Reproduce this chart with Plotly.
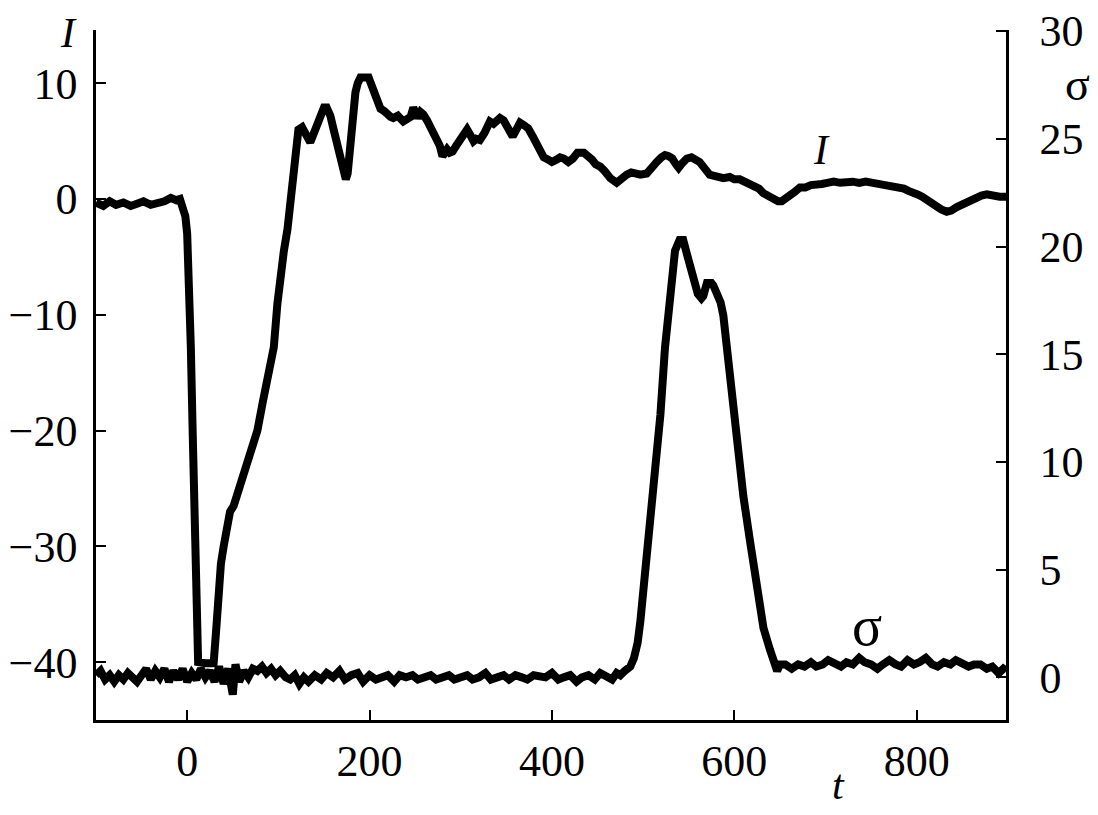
import plotly.graph_objects as go

# Current I(t)
i_t = [-100, -92, -85, -78, -70, -62, -55, -48, -40, -32, -25, -18, -12, -8, -5, -2, 0, 2, 4, 6, 8, 10, 12, 20, 29,
       32, 34, 37, 40, 44, 47, 51, 55, 60, 66, 72, 77, 83, 88, 92, 95, 99, 102, 106, 110, 113, 117, 119, 122, 126,
       130, 135, 139, 144, 150, 153, 157, 160, 164, 168, 171, 174, 176, 179, 182, 184.5, 187, 190, 199, 203, 208,
       212, 216, 219, 223, 226, 231, 237, 241, 245, 248, 250, 253, 256, 259, 263, 267, 270, 274, 277, 280, 283, 285,
       288, 291, 295, 300, 304, 307, 310, 314, 317, 321, 326, 332, 336, 340, 343, 347, 351, 354, 357, 361, 365, 369,
       374, 379, 384, 388, 391, 396, 400, 405, 409, 413, 418, 423, 428, 435, 440, 444, 448, 453, 458, 464, 471, 476,
       482, 487, 493, 497, 504, 511, 515, 520, 524, 528, 532, 536, 539, 543, 548, 553, 557, 562, 566, 570, 573, 578,
       583, 588, 595, 600, 606, 612, 617, 621, 627, 632, 638, 643, 648, 652, 656, 661, 666, 672, 678, 684, 690, 696,
       702, 709, 716, 723, 730, 737, 744, 752, 760, 767, 774, 780, 786, 791, 796, 801, 806, 811, 816, 822, 827, 833,
       838, 844, 849, 855, 860, 866, 871, 877, 882, 887, 891, 898]
i_val = [-0.3, -0.6, -0.2, -0.5, -0.3, -0.6, -0.4, -0.2, -0.5, -0.4, -0.2, 0.1, -0.1, 0.0, -0.6, -1.5, -3.0, -7.0,
         -12.8, -20.0, -27.0, -34.0, -40.0, -40.1, -40.1,
         -37.0, -34.4, -31.5, -30.0, -28.5, -27.0, -26.5, -25.5, -24.5, -22.8, -21.5, -20.0, -17.5, -15.6, -14.3,
         -12.8, -9.0, -6.4, -4.5, -2.6, -0.7, 1.7, 4.0, 6.0, 6.2,
         5.7, 4.9, 5.7, 6.8, 7.9, 7.9, 7.2, 6.2, 4.8, 3.4, 2.4, 1.7, 2.2, 4.9, 7.5, 9.2, 10.0, 10.5, 10.5, 9.5, 8.4,
         7.8, 7.6, 7.3, 7.1, 7.0, 7.2, 6.7, 6.9, 7.1, 7.9, 7.6, 7.0, 7.5, 7.3, 6.8, 6.2, 5.8, 5.1, 4.6, 3.7, 4.2, 4.3,
         4.0, 4.1, 4.6, 5.1, 5.5, 6.0, 5.6, 5.0, 5.2, 5.1, 5.7, 6.7, 6.5, 6.9, 7.0, 6.8, 6.2, 5.8, 5.4, 6.0, 6.6, 6.4,
         6.1, 5.4, 4.5, 3.9, 3.6, 3.4, 3.2, 3.4, 3.6, 3.5, 3.2, 3.5, 4.0, 4.0, 3.7, 3.4, 3.0, 2.8, 2.4, 1.8, 1.4, 1.8,
         2.1, 2.3, 2.2, 2.1, 2.2, 3.0, 3.2, 3.6, 3.8, 3.7, 3.5, 3.0, 2.7, 3.1, 3.5, 3.6, 3.5, 3.2, 2.8, 2.4, 2.1, 2.0,
         1.9, 1.8, 1.9, 1.7, 1.7, 1.5, 1.3, 1.2, 0.9, 0.5, 0.2, -0.1, -0.2, -0.2, 0.0, 0.2, 0.6, 1.0, 1.0, 1.2, 1.2, 1.3,
         1.4, 1.5, 1.4, 1.5, 1.5, 1.4, 1.5, 1.4, 1.3, 1.3, 1.1, 1.0, 0.9, 0.7, 0.6, 0.4, 0.2, -0.1, -0.4, -0.7, -0.9, -1.1,
         -1.0, -0.7, -0.5, -0.3, -0.1, 0.1, 0.3, 0.4, 0.3, 0.2, 0.2, 0.2]

# sigma(t)
s_t = [-100, -95, -90, -85, -80, -75, -70, -65, -60, -55, -50, -45, -40, -35, -30, -25, -20, -15, -10, -5, 0, 5, 10,
       15, 20, 25, 30, 35, 40, 45, 50, 53, 57, 62, 67, 72, 77, 82, 87, 92, 97, 102, 108, 113, 118, 123, 128, 133, 140,
       147, 153, 160, 167, 173, 180, 187, 193, 200, 207, 214, 220, 227, 233, 240, 247, 253, 260, 267, 273, 280, 287,
       293, 300, 307, 313, 320, 327, 333, 340, 347, 353, 360, 367, 373, 380, 387, 393, 400, 407, 413, 420, 427, 433,
       440, 447, 453, 460, 466, 471, 475, 480, 486, 490, 494, 497, 500, 504, 508, 513, 519, 524, 530, 535, 540, 544,
       549, 555, 560, 564, 566, 570, 575, 577, 582, 585, 588, 592, 596, 603, 610, 617, 625, 632, 639, 644, 647, 650,
       656, 663, 670, 677, 684, 690, 697, 703, 710, 717, 723, 730, 737, 743, 750, 757, 763, 770, 777, 783, 790, 797,
       803, 810, 817, 823, 830, 837, 843, 850, 857, 863, 870, 877, 883, 890, 895, 898]
s_val = [0.1, 0.3, -0.1, 0.1, -0.2, 0.1, -0.1, 0.2, 0.0, -0.2, 0.1, 0.4, -0.1, 0.3, 0.0, 0.4, -0.2, 0.3, -0.1, 0.4,
         -0.2, 0.2, -0.1, 0.4, 0.0, 0.3, -0.2, 0.5, -0.3, 0.4, -0.8, 0.6, -0.2, 0.3, 0.0, 0.4, 0.3, 0.5, 0.2, 0.4,
         0.1, 0.3, 0.0, -0.1, 0.1, -0.3, 0.0, -0.2, 0.1, -0.1, 0.2, 0.0, 0.3, -0.1, 0.1, 0.2, -0.2, 0.1, -0.1, 0.0,
         0.1, -0.2, 0.1, 0.0, 0.1, -0.1, 0.0, 0.1, -0.1, 0.0, 0.1, -0.1, 0.0, 0.1, -0.1, 0.0, 0.2, -0.1, 0.0, 0.1,
         -0.1, 0.1, 0.0, -0.1, 0.1, 0.0, 0.0, 0.2, -0.1, 0.0, 0.1, -0.2, 0.0, 0.1, -0.1, 0.2, 0.0, -0.1, 0.2, 0.1,
         0.3, 0.5, 0.9, 1.6, 2.6, 3.9, 5.4, 6.9, 9.2, 12.2, 15.3, 18.3, 19.8, 20.3, 20.3, 19.5, 18.7, 17.8, 17.6,
         17.7, 18.3, 18.3, 18.2, 17.7, 17.4, 16.8, 15.3, 13.7, 10.7, 8.4, 6.4, 4.3, 2.3, 1.3, 0.8, 0.3, 0.6, 0.6, 0.4,
         0.6, 0.5, 0.7, 0.5, 0.6, 0.8, 0.6, 0.5, 0.7, 0.6, 0.9, 0.7, 0.6, 0.4, 0.6, 0.8, 0.6, 0.5, 0.8, 0.6, 0.7, 0.9,
         0.6, 0.5, 0.7, 0.6, 0.8, 0.6, 0.5, 0.6, 0.6, 0.4, 0.5, 0.2, 0.4, 0.3]

x_ticks = [0, 200, 400, 600, 800]
i_ticks = [-40, -30, -20, -10, 0, 10]
s_ticks = [0, 5, 10, 15, 20, 25, 30]

FONT = "Liberation Serif"

# The page body has an 8 px margin, so the figure is drawn 8 px in from the top-left corner.
OFF = 8
W, H = 1098 - OFF, 815 - OFF
ML, MR, MT, MB = 96 - OFF, 92, 30 - OFF, 95
PW, PH = W - ML - MR, H - MT - MB


def px(xp):
    return (xp - OFF - ML) / PW


def py(yp):
    return (H - MB - (yp - OFF)) / PH


fig = go.Figure()
fig.add_trace(go.Scatter(x=i_t, y=i_val, mode="lines", line=dict(color="black", width=8),
                         showlegend=False, yaxis="y", hoverinfo="skip"))
fig.add_trace(go.Scatter(x=s_t, y=s_val, mode="lines", line=dict(color="black", width=8),
                         showlegend=False, yaxis="y2", hoverinfo="skip"))

axis_common = dict(showline=True, linecolor="black", linewidth=2.5, ticks="inside", tickcolor="black",
                   tickwidth=2, ticklen=10, showgrid=False, zeroline=False, automargin=False,
                   ticklabeloverflow="allow",
                   tickfont=dict(family=FONT, size=44, color="black"))

fig.update_layout(
    width=W, height=H,
    margin=dict(l=ML, r=MR, t=MT, b=MB),
    paper_bgcolor="white", plot_bgcolor="white",
    xaxis=dict(range=[-100, 898], tickvals=x_ticks, ticklabelstandoff=0, **axis_common),
    yaxis=dict(range=[-45, 14.6], tickvals=i_ticks, ticklabelstandoff=7, **axis_common),
    yaxis2=dict(range=[-1.98, 30.05], tickvals=s_ticks, overlaying="y", side="right",
                ticklabelstandoff=22, **axis_common),
)

ann_font = dict(family=FONT, size=42, color="black")
sig_font = dict(family=FONT, size=56, color="black")
fig.add_annotation(text="<i>I</i>", xref="paper", yref="paper", x=px(68), y=py(33),
                   showarrow=False, font=ann_font, xanchor="center", yanchor="middle")
fig.add_annotation(text="σ", xref="paper", yref="paper", x=px(1077), y=py(84),
                   showarrow=False, font=dict(family=FONT, size=46, color="black"),
                   xanchor="center", yanchor="middle")
fig.add_annotation(text="<i>I</i>", x=696, y=4.2, xref="x", yref="y",
                   showarrow=False, font=ann_font, xanchor="center", yanchor="middle")
fig.add_annotation(text="σ", x=745.5, y=2.4, xref="x", yref="y2",
                   showarrow=False, font=sig_font, xanchor="center", yanchor="middle")
fig.add_annotation(text="<i>t</i>", xref="paper", yref="paper", x=px(838), y=py(785),
                   showarrow=False, font=ann_font, xanchor="center", yanchor="middle")

fig.write_html("out.html")
